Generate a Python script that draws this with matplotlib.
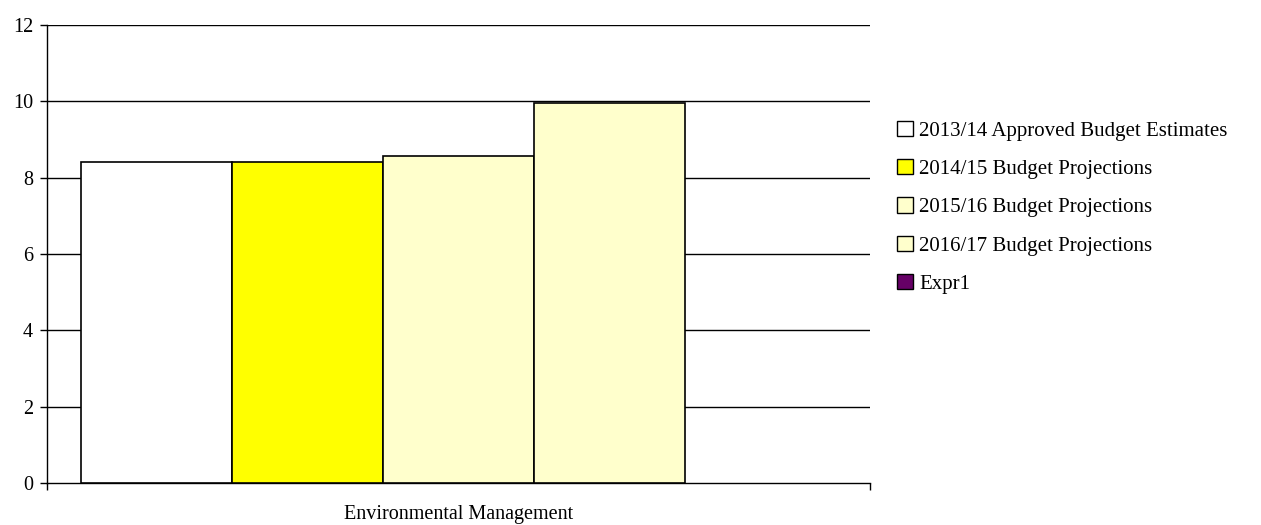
import matplotlib.pyplot as plt
from matplotlib.patches import Patch

# data
category = "Environmental Management"
series = ["2013/14 Approved Budget Estimates", "2014/15 Budget Projections",
          "2015/16 Budget Projections", "2016/17 Budget Projections", "Expr1"]
values = [8.42, 8.42, 8.57, 9.96, 0.0]
colors = ["#FFFFFF", "#FFFF00", "#FFFFCC", "#FFFFCC", "#660066"]
yticks = [0, 2, 4, 6, 8, 10, 12]

plt.rcParams['font.family'] = ['Liberation Serif', 'DejaVu Serif']

fig = plt.figure(figsize=(12.61, 5.25), dpi=100)
ax = fig.add_axes([47 / 1261, 1 - 483 / 525, 823 / 1261, 458 / 525])

n = len(series)
margin = 0.0413
width = (1 - 2 * margin) / n
for i, (v, c) in enumerate(zip(values, colors)):
    if v > 0:
        ax.bar(margin + i * width, v, width=width, align='edge', color=c,
               edgecolor='black', linewidth=1.2, zorder=3)

ax.set_xlim(0, 1)
ax.set_ylim(0, 12)
ax.set_yticks(yticks)
ax.set_yticklabels([str(t) for t in yticks], fontsize=14.5)
for t in yticks[1:]:
    ax.axhline(t, color='black', linewidth=1.0, zorder=1)

ax.set_xticks([0, 1])
ax.set_xticklabels(["", ""])
ax.set_xticks([0.5], minor=True)
ax.set_xticklabels([category], minor=True, fontsize=14.5)
ax.tick_params(axis='x', which='minor', length=0, pad=16)
ax.tick_params(axis='x', which='major', length=5, width=1, direction='out')
ax.tick_params(axis='y', length=5, width=1, direction='out', pad=5)

for s in ['top', 'right']:
    ax.spines[s].set_visible(False)
ax.spines['left'].set_linewidth(1.0)
ax.spines['bottom'].set_linewidth(1.0)

handles = [Patch(facecolor=c, edgecolor='black', linewidth=1.0) for c in colors]
fig.legend(handles, series, loc='upper left', bbox_to_anchor=(897 / 1261, 1 - 121 / 525),
           frameon=False, fontsize=15, handlelength=0.75, handleheight=0.75,
           handletextpad=0.3, labelspacing=0.88, borderaxespad=0, borderpad=0)

fig.savefig("out.png", dpi=100)
